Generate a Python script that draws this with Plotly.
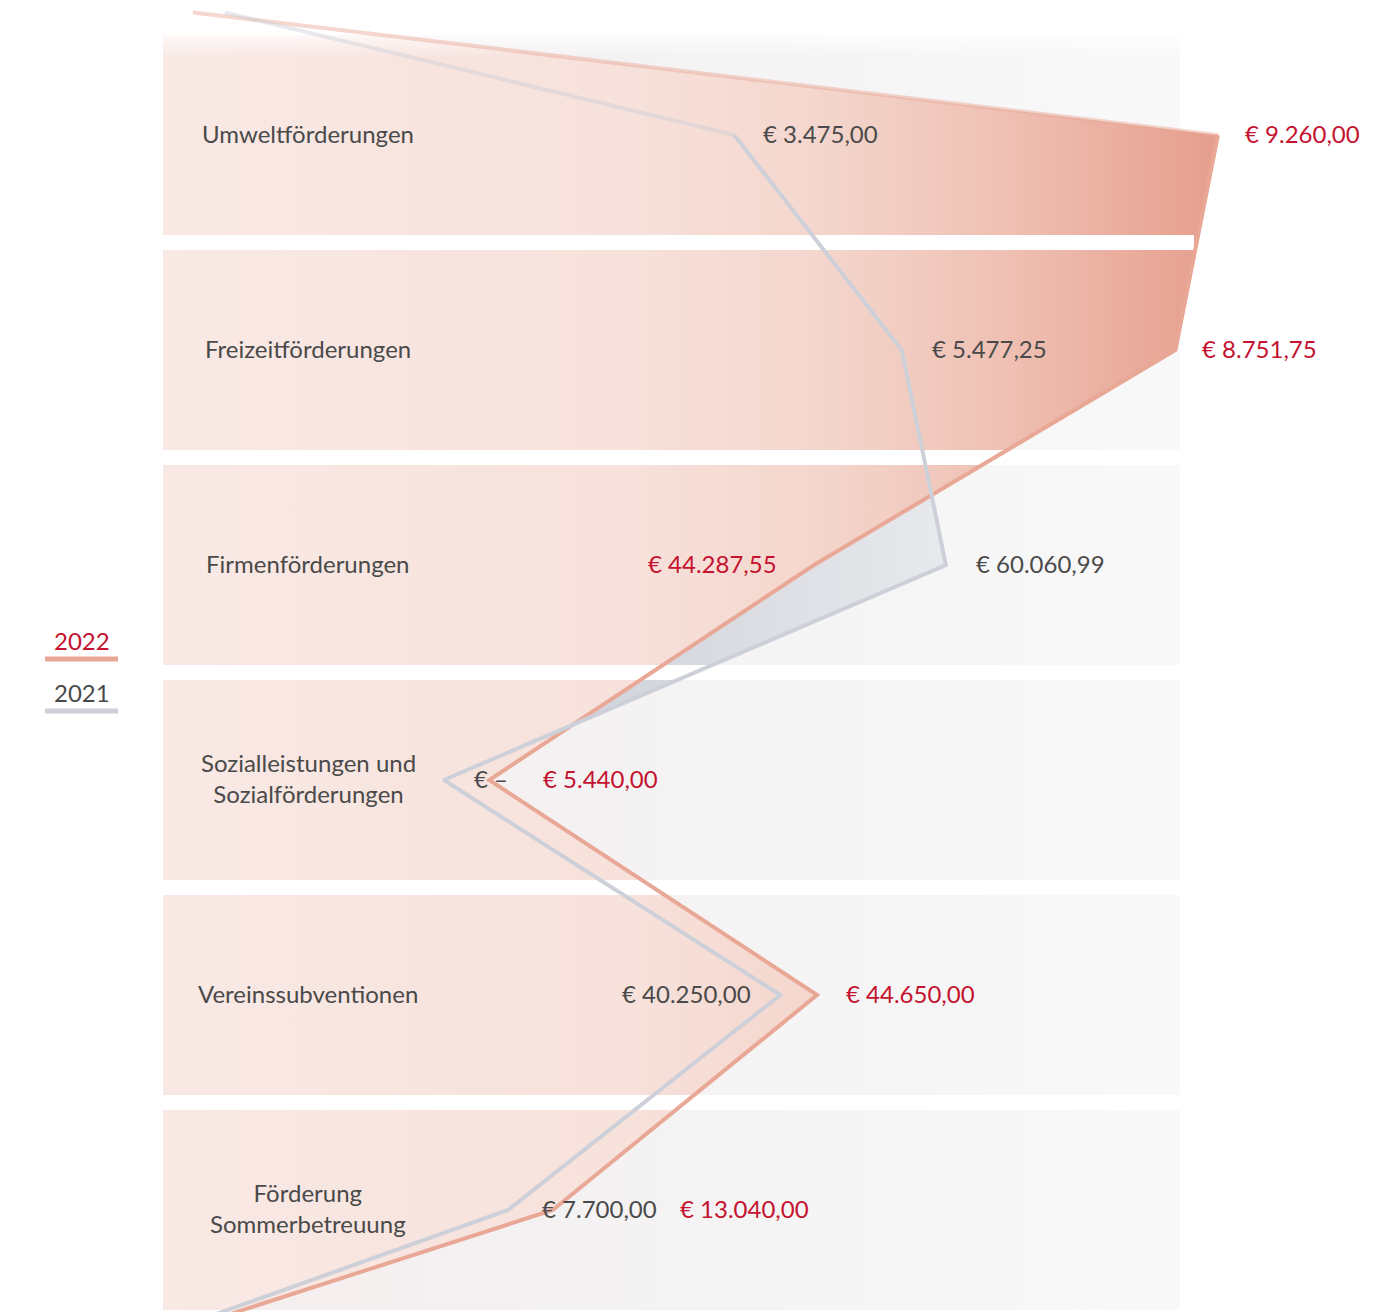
import plotly.graph_objects as go

# ---------------- data ----------------
categories = [
    "Umweltförderungen",
    "Freizeitförderungen",
    "Firmenförderungen",
    "Sozialleistungen und<br>Sozialförderungen",
    "Vereinssubventionen",
    "Förderung<br>Sommerbetreuung",
]
values_2022 = [9260.00, 8751.75, 44287.55, 5440.00, 44650.00, 13040.00]
values_2021 = [3475.00, 5477.25, 60060.99, 0.00, 40250.00, 7700.00]
# the source graphic draws the first two rows at ten times their value
display_factor = [10, 10, 1, 1, 1, 1]
# lead-in / lead-out values of the decorative line ends (above first / below last row)
lead_rows = [-0.57, 5.6]
lead_2022 = [-30000, -34800]
lead_2021 = [-26200, -35600]
series_names = ["2022", "2021"]

# ---------------- layout calibration (reference pixels) ----------------
W, H = 1392, 1312
OFF = 8  # browser body margin
FW, FH = W - OFF, H - OFF
X0_PX, PX_PER_UNIT = 443.8, 0.00836
ROW0_PX, ROW_PITCH, BAND_HALF = 135, 215, 100
BAND_LEFT_PX, BAND_RIGHT_PX, GAP_RIGHT_PX = 163, 1180, 1194
BAND_TOP_PX, BAND_BOTTOM_PX = 35, 1310

RED_TXT = "#c4122f"
DARK_TXT = "#4a4a4a"
RED_LINE = "#e9a796"
GREY_LINE = "#cdd0d8"
FONT = "Lato"
FS = 24


def xv(px):
    return (px - X0_PX) / PX_PER_UNIT


def yr(py):
    return (py - ROW0_PX) / ROW_PITCH


def px_paper(px):
    return (px - OFF) / FW


def py_paper(py):
    return 1 - (py - OFF) / FH


def euro(v):
    if v == 0:
        return "€ –"
    s = f"{v:,.2f}"
    s = s.replace(",", "X").replace(".", ",").replace("X", ".")
    return "€ " + s


rows = list(range(len(categories)))
half = BAND_HALF / ROW_PITCH
BL, BR, GR = xv(BAND_LEFT_PX), xv(BAND_RIGHT_PX), xv(GAP_RIGHT_PX)

x22 = [v * f for v, f in zip(values_2022, display_factor)]
x21 = [v * f for v, f in zip(values_2021, display_factor)]

fig = go.Figure()

# band backgrounds
bx, by = [], []
for r in rows:
    bx += [BL, BR, BR, BL, BL, None]
    by += [r - half, r - half, r + half, r + half, r - half, None]
fig.add_trace(go.Scatter(
    x=bx, y=by, mode="lines", fill="toself", line=dict(width=0),
    fillcolor="#f7f4f4",
    fillgradient=dict(type="horizontal", start=BL, stop=BR,
                      colorscale=[[0, "#f6eded"], [0.45, "#f4f2f3"], [1, "#f9f9f9"]]),
    hoverinfo="skip", showlegend=False, xaxis="x", yaxis="y"))


def fill_trace(xs, lead, colorscale, stop):
    fx = [BL, lead[0]] + xs + [lead[1], BL]
    fy = [lead_rows[0], lead_rows[0]] + rows + [lead_rows[1], lead_rows[1]]
    return go.Scatter(
        x=fx, y=fy, mode="lines", fill="toself", line=dict(width=0),
        fillcolor="#f5dcd4",
        fillgradient=dict(type="horizontal", start=BL, stop=stop, colorscale=colorscale),
        hoverinfo="skip", showlegend=False, xaxis="x", yaxis="y")


fig.add_trace(fill_trace(x21, lead_2021,
                         [[0, "#cfd1d9"], [0.6, "#d4d6dd"], [1, "#e8e9ed"]], max(x21)))
fig.add_trace(fill_trace(x22, lead_2022,
                         [[0, "#f9e9e5"], [0.45, "#f7e1db"], [0.62, "#f4d6cd"],
                          [0.8, "#efc0b3"], [1, "#e69e8d"]], max(x22)))

# white gaps between bands (above fills, below lines)
gx, gy = [], []
for r in rows[:-1]:
    gx += [BL, GR, GR, BL, BL, None]
    gy += [r + half, r + half, r + 1 - half, r + 1 - half, r + half, None]
fig.add_trace(go.Scatter(
    x=gx, y=gy, mode="lines", fill="toself", line=dict(width=0),
    fillcolor="white", hoverinfo="skip", showlegend=False, xaxis="x", yaxis="y"))

# soft white fade at the top of the first band
t0, t1 = rows[0] - half, rows[0] - half + 22 / ROW_PITCH
fig.add_trace(go.Scatter(
    x=[BL, BR, BR, BL, BL], y=[t0, t0, t1, t1, t0], mode="lines", fill="toself",
    line=dict(width=0), fillcolor="rgba(255,255,255,0.3)",
    fillgradient=dict(type="vertical", start=t0, stop=t1,
                      colorscale=[[0, "rgba(255,255,255,0.75)"], [1, "rgba(255,255,255,0)"]]),
    hoverinfo="skip", showlegend=False, xaxis="x", yaxis="y"))

# lines
for xs, lead, col in [(x22, lead_2022, RED_LINE), (x21, lead_2021, GREY_LINE)]:
    fig.add_trace(go.Scatter(
        x=[lead[0], xs[0]], y=[lead_rows[0], rows[0]], mode="lines",
        line=dict(color=col, width=4), opacity=0.45,
        hoverinfo="skip", showlegend=False, xaxis="x", yaxis="y2"))
    fig.add_trace(go.Scatter(
        x=xs + [lead[1]], y=rows + [lead_rows[1]], mode="lines",
        line=dict(color=col, width=4),
        hoverinfo="skip", showlegend=False, xaxis="x", yaxis="y2"))

annotations = []
# category labels
for r, c in zip(rows, categories):
    annotations.append(dict(
        x=px_paper(308), xref="paper", y=r, yref="y2", text=c, showarrow=False,
        xanchor="center", yanchor="middle", align="center", yshift=2,
        font=dict(family=FONT, size=FS, color=DARK_TXT)))

# value labels: (anchor, xshift px)
pos_2022 = [("left", 25), ("left", 25), ("right", -35), ("left", 52), ("left", 27), ("left", 125)]
pos_2021 = [("left", 27), ("left", 28), ("left", 28), ("left", 28), ("right", -27), ("left", 32)]
for xs, vals, pos, col in [(x22, values_2022, pos_2022, RED_TXT),
                           (x21, values_2021, pos_2021, DARK_TXT)]:
    for r, xval, v, (anc, sh) in zip(rows, xs, vals, pos):
        annotations.append(dict(
            x=xval, xref="x", y=r, yref="y2", text=euro(v), showarrow=False,
            xanchor=anc, yanchor="middle", xshift=sh, yshift=2,
            font=dict(family=FONT, size=FS, color=col)))

# legend
shapes = []
for name, ty, ly, tcol, lcol in [(series_names[0], 640, 659, RED_TXT, RED_LINE),
                                 (series_names[1], 692, 711, DARK_TXT, GREY_LINE)]:
    annotations.append(dict(
        x=px_paper(82), xref="paper", y=py_paper(ty), yref="paper", text=name,
        showarrow=False, xanchor="center", yanchor="middle",
        font=dict(family=FONT, size=FS, color=tcol)))
    shapes.append(dict(type="line", xref="paper", yref="paper",
                       x0=px_paper(45), x1=px_paper(118), y0=py_paper(ly), y1=py_paper(ly),
                       line=dict(color=lcol, width=5)))

hidden = dict(visible=False, showgrid=False, zeroline=False, showticklabels=False, fixedrange=True)
fig.update_layout(
    width=FW, height=FH,
    margin=dict(l=0, r=0, t=0, b=0, pad=0),
    paper_bgcolor="white", plot_bgcolor="rgba(0,0,0,0)",
    showlegend=False,
    xaxis=dict(domain=[0, 1], range=[xv(OFF), xv(W)], anchor="y", **hidden),
    yaxis=dict(domain=[py_paper(BAND_BOTTOM_PX), py_paper(BAND_TOP_PX)],
               range=[yr(BAND_BOTTOM_PX), yr(BAND_TOP_PX)], anchor="x", **hidden),
    yaxis2=dict(domain=[0, 1], range=[yr(H), yr(OFF)], anchor="x", **hidden),
    annotations=annotations,
    shapes=shapes,
)

fig.write_html("out.html")
